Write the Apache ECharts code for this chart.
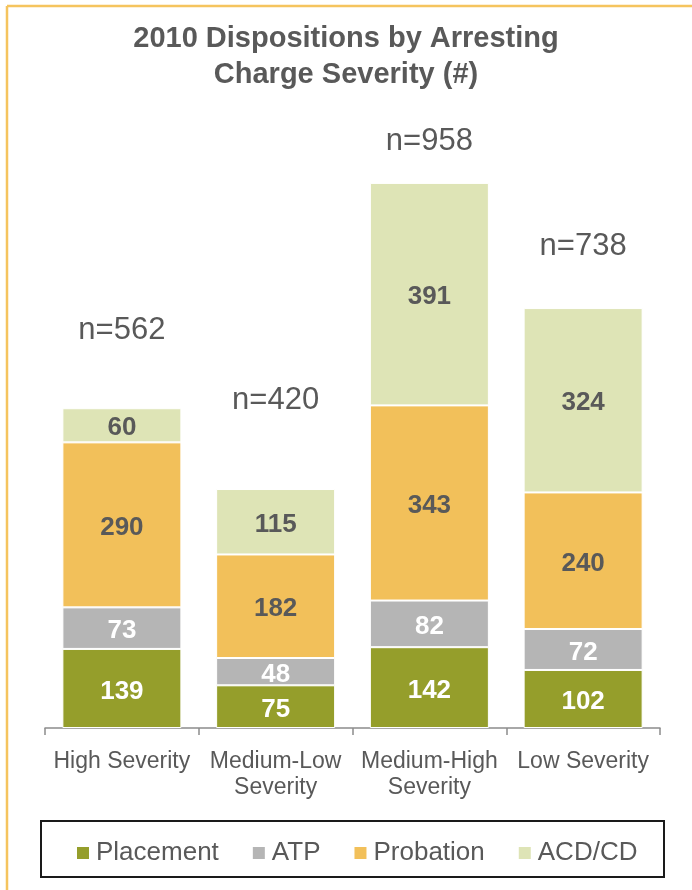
<!DOCTYPE html>
<html>
<head>
<meta charset="utf-8">
<script src="https://cdn.jsdelivr.net/npm/echarts@6/dist/echarts.min.js"></script>
<style>
html,body{margin:0;padding:0;background:#fff;}
#chart{width:692px;height:890px;}
</style>
</head>
<body>
<div id="chart"></div>
<script>
const categories = ['High Severity', 'Medium-Low\nSeverity', 'Medium-High\nSeverity', 'Low Severity'];
const placement = [139, 75, 142, 102];
const atp = [73, 48, 82, 72];
const probation = [290, 182, 343, 240];
const acdcd = [60, 115, 391, 324];
const totals = [562, 420, 958, 738];
const seriesNames = ['Placement', 'ATP', 'Probation', 'ACD/CD'];
const yMin = 0, yMax = 1000;

// layout-only: distance of each "n=" label above its bar
const totalLabelDistance = [62, 73, 26, 46];

const FONT = '"Liberation Sans", Arial, sans-serif';
const GRAY = '#595959';
const colors = ['#959E2B', '#B5B5B5', '#F2C05A', '#DEE4B6'];
const labelColors = ['#ffffff', '#ffffff', GRAY, GRAY];
const values = [placement, atp, probation, acdcd];

const chart = echarts.init(document.getElementById('chart'), null, {renderer: 'canvas'});

const series = seriesNames.map((name, i) => ({
  name: name,
  type: 'bar',
  stack: 'total',
  barWidth: 119,
  data: values[i],
  itemStyle: {color: colors[i], borderColor: '#ffffff', borderWidth: 1},
  label: {
    show: true,
    position: 'inside',
    offset: [0, 3],
    color: labelColors[i],
    fontFamily: FONT,
    fontWeight: 'bold',
    fontSize: 26
  },
  emphasis: {disabled: true}
}));

series.push({
  name: 'total',
  type: 'bar',
  stack: 'total',
  barWidth: 119,
  data: totals.map((t, i) => ({
    value: 0,
    label: {distance: totalLabelDistance[i]}
  })),
  itemStyle: {color: 'transparent'},
  label: {
    show: true,
    position: 'top',
    color: GRAY,
    fontFamily: FONT,
    fontSize: 31,
    formatter: p => 'n=' + totals[p.dataIndex]
  },
  emphasis: {disabled: true}
});

chart.setOption({
  animation: false,
  backgroundColor: '#ffffff',
  title: {
    text: '2010 Dispositions by Arresting\nCharge Severity (#)',
    left: 'center',
    top: 21,
    padding: 0,
    textStyle: {
      fontFamily: FONT,
      fontWeight: 'bold',
      fontSize: 29,
      lineHeight: 36,
      color: GRAY
    }
  },
  grid: {left: 45, right: 32, top: 159, bottom: 162},
  xAxis: {
    type: 'category',
    data: categories,
    axisLine: {lineStyle: {color: '#8C8C8C', width: 1.5}},
    axisTick: {show: true, length: 7, lineStyle: {color: '#8C8C8C', width: 1.5}},
    axisLabel: {
      fontFamily: FONT,
      fontSize: 23,
      lineHeight: 26,
      color: GRAY,
      margin: 21,
      interval: 0
    }
  },
  yAxis: {
    type: 'value',
    min: yMin,
    max: yMax,
    show: false,
    splitLine: {show: false}
  },
  legend: {
    data: seriesNames,
    left: 75,
    top: 840,
    padding: 0,
    icon: 'rect',
    itemWidth: 14,
    itemHeight: 14,
    itemGap: 32,
    selectedMode: false,
    textStyle: {fontFamily: FONT, fontSize: 26, color: GRAY, padding: [0, 0, 0, 1]}
  },
  graphic: [
    {type: 'line', shape: {x1: 7, y1: 6, x2: 692, y2: 6}, style: {stroke: '#F5C45E', lineWidth: 2.5}},
    {type: 'line', shape: {x1: 7, y1: 6, x2: 7, y2: 890}, style: {stroke: '#F5C45E', lineWidth: 2.5}},
    {type: 'rect', shape: {x: 41, y: 821, width: 623, height: 56}, style: {fill: 'none', stroke: '#1a1a1a', lineWidth: 2}}
  ],
  series: series
});
</script>
</body>
</html>
